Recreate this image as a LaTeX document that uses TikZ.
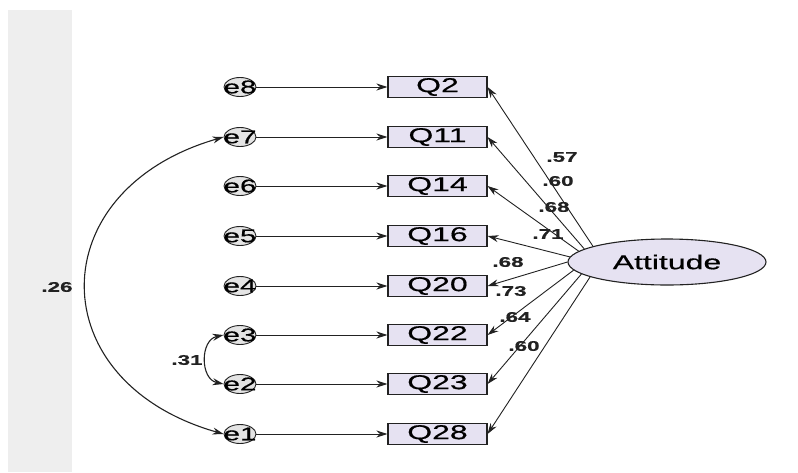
\documentclass[tikz,border=0pt]{standalone}
\usepackage{fontspec}
\setmainfont{Liberation Sans}
\newfontfamily\widefont[FakeStretch=1.6,FakeBold=0.6]{Liberation Sans}
\usetikzlibrary{arrows.meta,shapes.geometric}
\definecolor{boxfill}{HTML}{E6E2F2}
\definecolor{efill}{HTML}{E4E4E4}
\definecolor{linec}{HTML}{222222}
\definecolor{band}{HTML}{EEEEEE}
\tikzset{
  qbox/.style={draw=linec, fill=boxfill, line width=1.1pt, minimum width=99pt, minimum height=21pt, inner sep=0pt, font=\widefont\fontsize{20}{20}\selectfont},
  eshape/.style={draw=linec, fill=efill, ellipse, line width=0.9pt, minimum width=32pt, minimum height=19pt, inner sep=0pt},
  etext/.style={font=\widefont\fontsize{18.5}{18.5}\selectfont, inner sep=0pt},
  latent/.style={draw=linec, fill=boxfill, ellipse, line width=1.1pt, minimum width=198pt, minimum height=46pt, inner sep=0pt, font=\widefont\fontsize{20}{20}\selectfont},
  arr/.style={draw=linec, line width=0.9pt, -{Stealth[length=11pt,width=7pt]}},
  cov/.style={draw=linec, line width=1.1pt, {Stealth[length=11pt,width=7pt]}-{Stealth[length=11pt,width=7pt]}},
  coef/.style={font=\widefont\bfseries\fontsize{14}{14}\selectfont, inner sep=0pt, text=linec},
}
\begin{document}
\begin{tikzpicture}[x=1pt,y=-1pt]
\useasboundingbox (0,0) rectangle (798,472);
\fill[white] (0,0) rectangle (798,472);
\fill[band] (8,10) rectangle (72,472);

% latent
\node[latent] (att) at (667,262) {Attitude};

% indicators and errors
\foreach \q/\e/\y in {Q2/e8/87, Q11/e7/137, Q14/e6/186, Q16/e5/236, Q20/e4/286, Q22/e3/335, Q23/e2/384, Q28/e1/434}{
  \node[qbox] (\q) at (437.5,\y) {\q};
  \node[eshape] (\e) at (240,\y) {};
  \node[etext] (\e t) at (240,\y) {\e};
  \draw[arr] (\e.east) -- (\q.west);
}

% loadings
\draw[arr] (att.168) -- (Q2.east);
\draw[arr] (att.171) -- (Q11.east);
\draw[arr] (att.173.5) -- (Q14.east);
\draw[arr] (att.177) -- (Q16.east);
\draw[arr] (att.180.5) -- (Q20.east);
\draw[arr] (att.185) -- (Q22.east);
\draw[arr] (att.188) -- (Q23.east);
\draw[arr] (att.191.5) -- (Q28.east);

% coefficients
\node[coef] (c1) at (562,157) {.57};
\node[coef] (c2) at (558,181) {.60};
\node[coef] (c3) at (554,207) {.68};
\node[coef] (c4) at (548,234) {.71};
\node[coef] (c5) at (508,262) {.68};
\node[coef] (c6) at (511,291) {.73};
\node[coef] (c7) at (515,317) {.64};
\node[coef] (c8) at (524,346) {.60};

% covariances
\draw[cov] (e7.west) .. controls (40,190) and (40,382) .. (e1.west);
\draw[cov] (e3.west) .. controls (200,340) and (200,379) .. (e2.west);
\node[coef] (r1) at (57,287) {.26};
\node[coef] (r2) at (187,360) {.31};
\end{tikzpicture}
\end{document}
